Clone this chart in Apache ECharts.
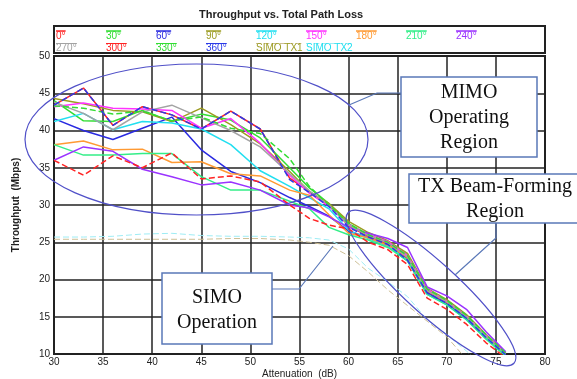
<!DOCTYPE html>
<html>
<head>
<meta charset="UTF-8">
<title>Throughput vs. Total Path Loss</title>
<script src="https://cdn.jsdelivr.net/npm/echarts/dist/echarts.min.js"></script>
<style>
html, body { margin: 0; padding: 0; background: #fff; }
#chart { width: 577px; height: 379px; }
</style>
</head>
<body>
<div id="chart"></div>
<script>
// attenuation steps (dB)
var atten = [30, 33, 36, 39, 42, 45, 48, 51, 54, 56, 58, 60, 62, 64, 66, 68, 70, 72, 74, 76];

// throughput (Mbps) per antenna angle
var deg0   = [43.4, 45.7, 40.7, 43.2, 42.1, 40.2, 42.6, 40.2, 33.6, 31.8, 30.0, 27.2, 25.8, 24.8, 22.8, 18.3, 16.9, 14.9, 12.3, 9.9];
var deg30  = [44.0, 41.3, 41.2, 42.7, 41.2, 42.2, 41.4, 39.0, 35.0, 32.3, 30.2, 27.5, 26.0, 25.0, 23.3, 18.6, 17.2, 15.2, 12.5, 10.1];
var deg60  = [41.6, 40.0, 38.8, 40.3, 41.8, 37.4, 34.5, 33.0, 31.0, 29.8, 28.5, 26.5, 25.6, 24.5, 22.5, 18.2, 16.7, 14.8, 12.2, 9.8];
var deg90  = [44.3, 43.6, 42.7, 42.5, 41.2, 43.0, 40.8, 38.2, 34.5, 31.8, 30.2, 27.8, 26.3, 25.2, 23.5, 18.8, 17.3, 15.3, 12.6, 10.2];
var deg120 = [41.2, 42.3, 40.1, 41.2, 41.0, 40.2, 38.1, 34.6, 32.5, 31.0, 29.5, 26.6, 25.5, 24.5, 22.6, 18.0, 16.6, 14.6, 12.1, 9.8];
var deg150 = [43.2, 43.7, 43.0, 42.9, 42.7, 40.3, 41.6, 38.3, 34.0, 31.6, 29.8, 27.4, 26.0, 25.1, 23.2, 18.7, 17.1, 15.1, 12.5, 10.1];
var deg180 = [38.1, 38.6, 37.4, 37.5, 35.7, 35.8, 34.2, 33.9, 32.0, 31.3, 28.7, 26.2, 25.6, 24.6, 23.0, 18.5, 17.0, 15.0, 12.4, 10.0];
var deg210 = [38.1, 36.7, 36.7, 36.9, 36.9, 33.8, 32.0, 32.0, 30.5, 29.5, 27.0, 26.0, 25.3, 24.3, 22.5, 18.0, 16.6, 14.6, 12.0, 9.7];
var deg240 = [36.0, 37.8, 37.2, 34.8, 33.8, 32.7, 33.1, 32.0, 30.0, 29.6, 28.4, 27.0, 26.2, 25.5, 24.3, 19.0, 17.8, 16.0, 13.0, 10.3];
var deg270 = [43.8, 42.3, 40.1, 42.5, 43.4, 41.7, 40.0, 37.8, 34.2, 31.9, 30.0, 27.3, 25.9, 24.9, 23.0, 18.5, 17.0, 15.0, 12.4, 10.0];
var deg300 = [36.0, 34.0, 36.6, 35.0, 37.0, 33.5, 33.9, 33.1, 30.0, 28.2, 27.3, 26.8, 25.0, 24.0, 22.0, 17.5, 16.0, 14.0, 11.5, 9.5];
var deg330 = [43.3, 43.0, 42.2, 42.6, 41.3, 41.8, 40.3, 39.6, 36.2, 32.5, 30.0, 27.5, 26.0, 25.0, 23.2, 18.7, 17.2, 15.2, 12.6, 10.1];
var deg360 = [43.4, 45.7, 40.7, 43.2, 42.1, 40.2, 42.6, 40.2, 33.4, 31.7, 29.8, 27.0, 25.7, 24.7, 22.6, 18.2, 16.8, 14.8, 12.2, 9.9];
var simoTx1 = [25.4, 25.4, 25.4, 25.4, 25.4, 25.4, 25.5, 25.5, 25.3, 25.0, 24.6, 23.2, 21.0, 18.6, 16.5, 14.4, 12.3, 9.3, 7.0, 5.0];
var simoTx2 = [25.7, 25.7, 25.8, 26.1, 26.2, 25.9, 25.8, 25.8, 25.7, 25.6, 25.3, 24.1, 21.5, 19.7, 17.7, 14.6, 12.6, 10.4, 8.0, 6.0];

var names = ['0°', '30°', '60°', '90°', '120°', '150°', '180°', '210°', '240°',
             '270°', '300°', '330°', '360°', 'SIMO TX1', 'SIMO TX2'];
var values = [deg0, deg30, deg60, deg90, deg120, deg150, deg180, deg210, deg240,
              deg270, deg300, deg330, deg360, simoTx1, simoTx2];
var colors = ['#ff2424', '#33dd33', '#2a2ae0', '#9c9c22', '#22dff0', '#ff33ff', '#ff9a33', '#33ee88', '#9a33ff',
              '#a3a3a3', '#ff2424', '#33dd33', '#2a3ae8', '#cdbf95', '#9eecf4'];
var textColors = colors.slice();
textColors[13] = '#9c9c22';
textColors[14] = '#22dff0';
var dashed = [false, false, false, false, false, false, false, false, false,
              false, true, true, true, true, true];

var font = 'Liberation Sans';
var serif = 'Liberation Serif';

var chart = echarts.init(document.getElementById('chart'));

// legend: a short line drawn above each label
var rich = {};
for (var i = 0; i < names.length; i++) {
  rich['l' + i] = {
    fontSize: 10, fontFamily: font, color: 'rgba(0,0,0,0)',
    height: 0, lineHeight: 2,
    borderColor: colors[i], borderWidth: 1, borderType: dashed[i] ? [5, 3] : 'solid'
  };
  rich['t' + i] = {
    fontSize: 10, fontFamily: font, color: textColors[i],
    width: 47.5, lineHeight: 8
  };
}

var series = [];
for (var i = 0; i < names.length; i++) {
  var pts = [];
  for (var j = 0; j < atten.length; j++) pts.push([atten[j], values[i][j]]);
  var simo = i >= 13;
  series.push({
    name: names[i],
    type: 'line',
    data: pts,
    symbol: 'none',
    clip: true,
    lineStyle: {
      color: colors[i],
      width: simo ? 1 : 1.5,
      type: dashed[i] ? [6, 3] : 'solid'
    },
    itemStyle: { color: colors[i] },
    z: simo ? 1 : 2
  });
}

var annColor = '#5050c8';
var boxColor = '#5a78b8';

function box(x, y, w, h, lines, lineY) {
  var els = [{
    type: 'rect',
    shape: { x: x, y: y, width: w, height: h },
    style: { fill: '#fff', stroke: boxColor, lineWidth: 1.5 },
    z: 20
  }];
  for (var k = 0; k < lines.length; k++) {
    els.push({
      type: 'text',
      x: lines[k][0], y: lineY[k],
      style: { text: lines[k][1], font: '20px ' + serif, fill: '#111', align: 'center', verticalAlign: 'middle' },
      z: 21
    });
  }
  return els;
}

var graphics = [
  // legend frame
  { type: 'rect', shape: { x: 54, y: 26, width: 491, height: 27 },
    style: { fill: 'none', stroke: '#222', lineWidth: 2 }, z: 5 },
  // MIMO region
  { type: 'ellipse', shape: { cx: 196.5, cy: 139.5, rx: 171.5, ry: 75.5 },
    style: { fill: 'none', stroke: annColor, lineWidth: 1.2 }, z: 15 },
  { type: 'polyline', shape: { points: [[349, 105], [377, 93], [401, 93]] },
    style: { fill: 'none', stroke: boxColor, lineWidth: 1.2 }, z: 15 },
  // TX beam-forming region
  { type: 'ellipse', x: 431, y: 288, rotation: -0.737, shape: { cx: 0, cy: 0, rx: 112, ry: 26 },
    style: { fill: 'none', stroke: annColor, lineWidth: 1.2 }, z: 15 },
  { type: 'polyline', shape: { points: [[496, 223], [496, 238], [455, 275]] },
    style: { fill: 'none', stroke: boxColor, lineWidth: 1.2 }, z: 15 },
  // SIMO
  { type: 'polyline', shape: { points: [[272, 289], [299, 289], [333, 246]] },
    style: { fill: 'none', stroke: boxColor, lineWidth: 1.2 }, z: 15 }
];
graphics = graphics
  .concat(box(401, 77, 136, 80, [[469, 'MIMO'], [469, 'Operating'], [469, 'Region']], [93, 118, 143]))
  .concat(box(409, 174, 172, 49, [[495, 'TX Beam-Forming'], [495, 'Region']], [187, 212]))
  .concat(box(162, 273, 110, 71, [[217, 'SIMO'], [217, 'Operation']], [298, 323]));

var option = {
  animation: false,
  title: {
    text: 'Throughput vs. Total Path Loss',
    left: 194, top: 4,
    textStyle: { fontSize: 11, fontWeight: 'bold', fontFamily: font, color: '#222' }
  },
  legend: {
    data: names,
    left: 51, top: 26, width: 455,
    padding: 0, itemGap: -2.5,
    icon: 'none', itemWidth: 0, itemHeight: 0,
    formatter: function (name) {
      var i = names.indexOf(name);
      return '{l' + i + '|' + name + '}\n{t' + i + '|' + name + '}';
    },
    textStyle: { rich: rich }
  },
  grid: {
    left: 54, right: 32, top: 56, bottom: 25,
    outerBoundsMode: 'none',
    show: true, borderColor: '#222', borderWidth: 2
  },
  xAxis: {
    type: 'value', min: 30, max: 80, interval: 5,
    name: 'Attenuation  (dB)', nameLocation: 'middle', nameGap: 15,
    nameMoveOverlap: false,
    nameTextStyle: { fontSize: 10, fontFamily: font, color: '#222', verticalAlign: 'top' },
    axisLine: { show: false }, axisTick: { show: false },
    axisLabel: { fontSize: 10, fontFamily: font, color: '#222', margin: 3 },
    splitLine: { lineStyle: { color: '#222', width: 1.5 } }
  },
  yAxis: {
    type: 'value', min: 10, max: 50, interval: 5,
    name: 'Throughput  (Mbps)', nameLocation: 'middle', nameGap: 33,
    nameTextStyle: { fontSize: 10, fontFamily: font, color: '#222', fontWeight: 'bold' },
    axisLine: { show: false }, axisTick: { show: false },
    axisLabel: { fontSize: 10, fontFamily: font, color: '#222', margin: 4 },
    splitLine: { lineStyle: { color: '#222', width: 1.5 } }
  },
  series: series,
  graphic: graphics
};

chart.setOption(option);
</script>
</body>
</html>
